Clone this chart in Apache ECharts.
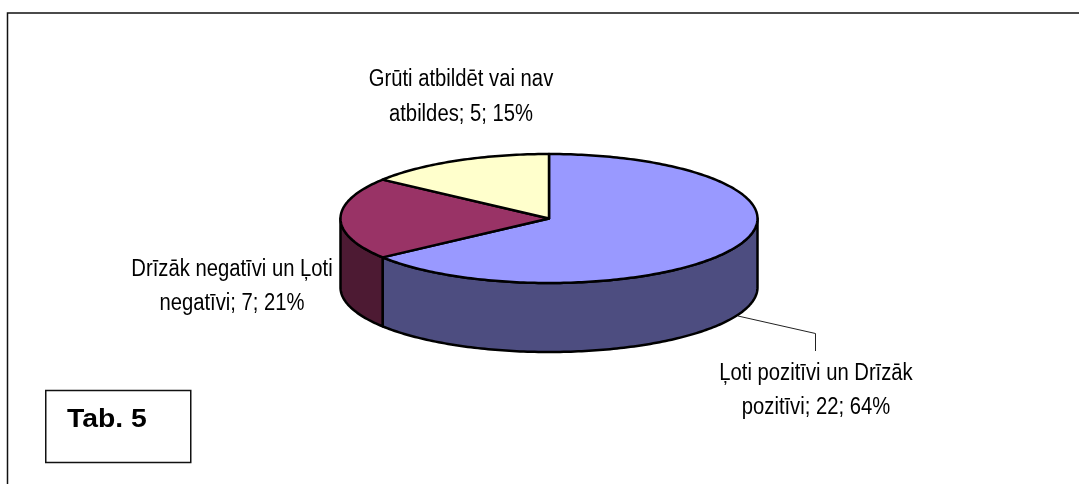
<!DOCTYPE html>
<html><head><meta charset="utf-8">
<style>html,body{margin:0;padding:0;background:#fff}#c{width:1079px;height:484px}</style>
<script src="https://cdn.jsdelivr.net/npm/echarts@6/dist/echarts.min.js"></script>
</head><body><div id="c"></div>
<script>
const categories = ['Ļoti pozitīvi un Drīzāk pozitīvi', 'Drīzāk negatīvi un Ļoti negatīvi', 'Grūti atbildēt vai nav atbildes'];
const values = [22, 7, 5];
const labelLines = [
  ['Ļoti pozitīvi un Drīzāk', 'pozitīvi; 22; 64%'],
  ['Drīzāk negatīvi un Ļoti', 'negatīvi; 7; 21%'],
  ['Grūti atbildēt vai nav', 'atbildes; 5; 15%']
];
const topColors = ['#9999FF', '#993366', '#FFFFCC'];
const sideColors = ['#4D4D80', '#4D1A33', '#808066'];
const labelAnchors = [[816, 373.5], [232, 269.5], [461, 80]];
const labelSpacing = 34.5;

const cx = 549, cy = 218.5, rx = 208.5, ry = 64.5, depth = 69;
const total = values.reduce((a, b) => a + b, 0);
const pt = (deg, dy) => {
  const r = deg * Math.PI / 180;
  return [cx + rx * Math.sin(r), cy - ry * Math.cos(r) + (dy || 0)];
};
const arc = (a, b, dy) => {
  const out = [], n = Math.max(2, Math.ceil(Math.abs(b - a)));
  for (let i = 0; i <= n; i++) out.push(pt(a + (b - a) * i / n, dy));
  return out;
};
const line = { stroke: '#000', lineWidth: 2.5, lineJoin: 'round' };

function renderItem(params, api) {
  const i = params.dataIndex;
  let before = 0;
  for (let k = 0; k < i; k++) before += values[k];
  const a0 = before / total * 360;
  const a1 = (before + api.value(0)) / total * 360;
  const children = [];
  const w0 = Math.max(a0, 90), w1 = Math.min(a1, 270);
  if (w1 > w0) {
    const front = arc(w0, w1, 0);
    const back = arc(w1, w0, depth);
    children.push({ type: 'polygon', shape: { points: front.concat(back) },
      style: Object.assign({ fill: sideColors[i] }, line) });
  }
  children.push({ type: 'polygon', shape: { points: [[cx, cy]].concat(arc(a0, a1, 0)) },
    style: Object.assign({ fill: topColors[i] }, line) });
  labelLines[i].forEach((t, j) => {
    children.push({ type: 'text', x: labelAnchors[i][0], y: labelAnchors[i][1] + j * labelSpacing,
      scaleX: 0.88, style: {
      text: t, x: 0, y: 0,
      align: 'center', verticalAlign: 'middle', fill: '#000',
      font: '23px "Liberation Sans", Arial, sans-serif' } });
  });
  return { type: 'group', children };
}

const chart = echarts.init(document.getElementById('c'), null, { renderer: 'canvas' });
chart.setOption({
  animation: false,
  backgroundColor: '#fff',
  graphic: { elements: [
    { type: 'polyline', shape: { points: [[7.5, 484], [7.5, 13], [1079, 13]] },
      style: { fill: 'none', stroke: '#111', lineWidth: 1.5 } },
    { type: 'polyline', z: 1, shape: { points: [[738, 316], [815.5, 333.5], [815.5, 351]] },
      style: { fill: 'none', stroke: '#222', lineWidth: 1 } },
    { type: 'rect', shape: { x: 45.75, y: 390.5, width: 145, height: 72 },
      style: { fill: '#fff', stroke: '#111', lineWidth: 1.5 } },
    { type: 'text', x: 67, y: 419.5, scaleX: 1.09, style: { text: 'Tab. 5', x: 0, y: 0, verticalAlign: 'middle',
      font: 'bold 26px "Liberation Sans", Arial, sans-serif', fill: '#000' } }
  ] },
  series: [{
    type: 'custom', coordinateSystem: 'none', silent: true, z: 5,
    data: values.map((v, i) => ({ name: categories[i], value: [v] })),
    renderItem
  }]
});
</script></body></html>
